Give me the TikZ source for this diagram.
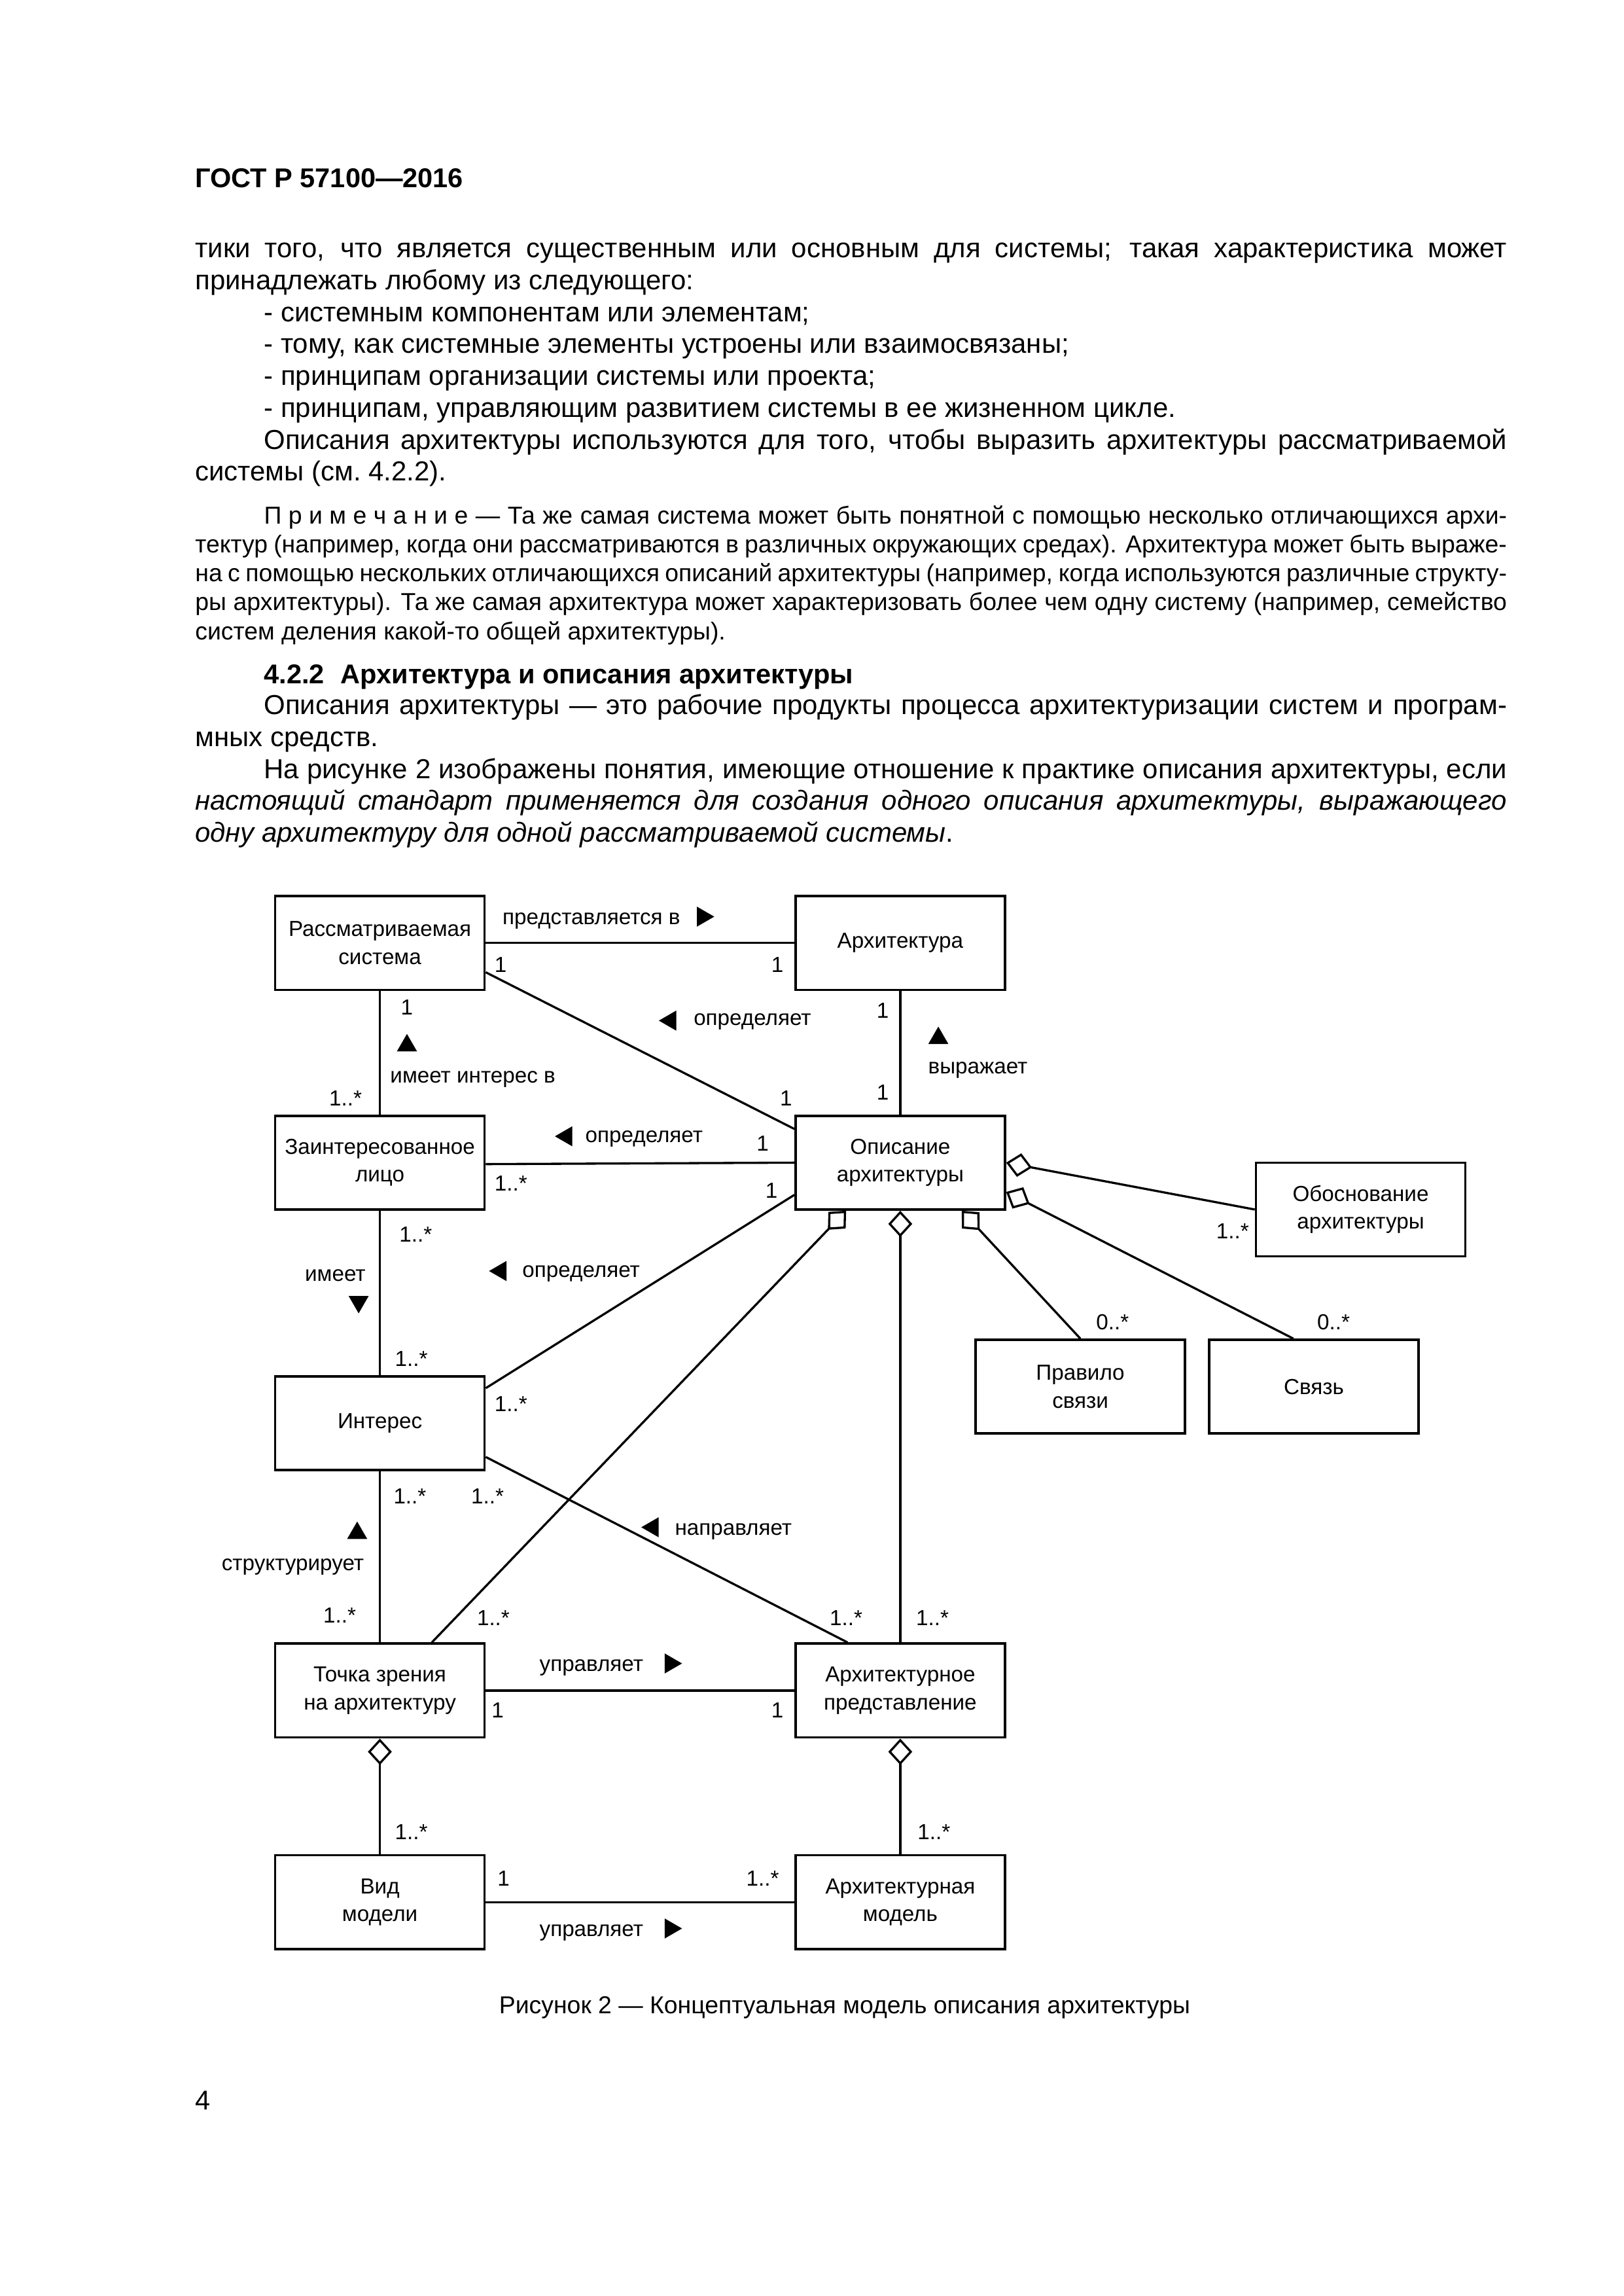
\documentclass[tikz,border=0pt]{standalone}
\usepackage{fontspec}
\setmainfont{Liberation Sans}
\usetikzlibrary{calc,arrows.meta,shapes.geometric}
\tikzset{
  box/.style={draw,line width=.9pt,minimum width=27.08mm,minimum height=12.12mm,inner sep=1pt,align=center,font=\fontsize{8}{10.2}\selectfont},
  lbl/.style={inner sep=0pt,font=\fontsize{8}{10}\selectfont},
  word/.style={lbl,yshift=-.55mm},
  link/.style={line width=.8pt},
  agg/.style={line width=.8pt,{Diamond[open,length=3.4mm,width=3.1mm]}-},
  tri/.style={regular polygon,regular polygon sides=3,fill,inner sep=0pt,minimum size=3mm},
  para/.style={anchor=base west,inner sep=0pt,text width=169.66mm,align=justify,font=\fontsize{10.1}{11.73}\selectfont},
  note/.style={para,font=\fontsize{9}{10.6}\selectfont}
}
\begin{document}
\begin{tikzpicture}[x=0.18936mm,y=-0.18936mm]
\path[use as bounding box,fill=white] (0,0) rectangle (1109,1568);
\node[anchor=base west,inner sep=0pt,font=\fontsize{10}{12}\selectfont\bfseries] (head) at (133,128) {ГОСТ Р 57100—2016};
\node[para] (p1) at (133,176) {тики того, что является существенным или основным для системы; такая характеристика может\linebreak принадлежать любому из следующего:\\
\hspace*{8.9mm}- системным компонентам или элементам;\\
\hspace*{8.9mm}- тому, как системные элементы устроены или взаимосвязаны;\\
\hspace*{8.9mm}- принципам организации системы или проекта;\\
\hspace*{8.9mm}- принципам, управляющим развитием системы в ее жизненном цикле.\\
\hspace*{8.9mm}Описания архитектуры используются для того, чтобы выразить архитектуры рассматриваемой\linebreak системы (см.~4.2.2).};
\node[note] (p2) at (133,358) {\hspace*{8.9mm}П\kern.28em р\kern.28em и\kern.28em м\kern.28em е\kern.28em ч\kern.28em а\kern.28em н\kern.28em и\kern.28em е — Та же самая система может быть понятной с помощью несколько отличающихся архи-\linebreak тектур (например, когда они рассматриваются в различных окружающих средах). Архитектура может быть выраже-\linebreak на с помощью нескольких отличающихся описаний архитектуры (например, когда используются различные структу-\linebreak ры архитектуры). Та же самая архитектура может характеризовать более чем одну систему (например, семейство\linebreak систем деления какой-то общей архитектуры).};
\node[anchor=base west,inner sep=0pt,font=\fontsize{10}{12}\selectfont\bfseries] (sec) at (180,467) {4.2.2\hspace{.6em}Архитектура и описания архитектуры};
\node[para] (p3) at (133,488) {\hspace*{8.9mm}Описания архитектуры — это рабочие продукты процесса архитектуризации систем и програм-\linebreak мных средств.\\
\hspace*{8.9mm}На рисунке 2 изображены понятия, имеющие отношение к практике описания архитектуры, если\linebreak \textit{настоящий стандарт применяется для создания одного описания архитектуры, выражающего\linebreak одну архитектуру для одной рассматриваемой системы}.};

\node[box] (sys) at (259.5,644) {Рассматриваемая\\система}; \node[box] (arch) at (615,644) {Архитектура};
\node[box] (stake) at (259.5,794) {Заинтересованное\\лицо}; \node[box] (ad) at (615,794) {Описание\\архитектуры};
\node[box] (rat) at (929.5,826) {Обоснование\\архитектуры};
\node[box] (crule) at (738,947) {Правило\\связи}; \node[box] (corr) at (897.5,947) {Связь};
\node[box] (conc) at (259.5,972) {Интерес};
\node[box] (vp) at (259.5,1154.5) {Точка зрения\\на архитектуру}; \node[box] (view) at (615,1154.5) {Архитектурное\\представление};
\node[box] (mk) at (259.5,1299) {Вид\\модели}; \node[box] (model) at (615,1299) {Архитектурная\\модель};

\draw[link] (sys.east) -- (arch.west); \draw[link] ($(sys.east)+(0,20)$) -- ($(ad.west)+(0,-23)$);
\draw[link] (arch.south) -- (ad.north); \draw[link] (sys.south) -- (stake.north);
\draw[link] ($(stake.east)+(0,1)$) -- (ad.west); \draw[link] (stake.south) -- (conc.north);
\draw[link] ($(conc.east)+(0,-24)$) -- ($(ad.west)+(0,22)$); \draw[link] ($(conc.east)+(0,23)$) -- ($(view.north)+(-36,0)$);
\draw[link] (conc.south) -- (vp.north); \draw[link] (vp.east) -- (view.west); \draw[link] (mk.east) -- (model.west);
\draw[agg] ($(ad.south)+(-37,0)$) -- ($(vp.north)+(35.5,0)$); \draw[agg] (ad.south) -- (view.north);
\draw[agg] ($(ad.south)+(42,0)$) -- (crule.north); \draw[agg] (ad.east) -- (rat.west);
\draw[agg] ($(ad.east)+(0,20)$) -- ($(corr.north)+(-14,0)$);
\draw[agg] (vp.south) -- (mk.north); \draw[agg] (view.south) -- (model.north);

\node[word] (l1) at (404,626) {представляется в}; \node[tri,shape border rotate=-90] (t1) at (480,626) {};
\node[lbl] (m1) at (342,659) {1}; \node[lbl] (m2) at (531,659) {1};
\node[tri,shape border rotate=90] (t2) at (458,697) {}; \node[word] (l2) at (514,695) {определяет};
\node[lbl] (m3) at (603,690) {1}; \node[lbl] (m4) at (603,746) {1}; \node[lbl] (m5) at (537,750) {1};
\node[tri] (t3) at (641,709) {}; \node[word] (l3) at (668,728) {выражает};
\node[lbl] (m6) at (278,688) {1}; \node[tri] (t4) at (278,714) {}; \node[word] (l4) at (323,734) {имеет интерес в}; \node[lbl] (m7) at (236,750) {1..*};
\node[tri,shape border rotate=90] (t5) at (387,776) {}; \node[word] (l5) at (440,775) {определяет};
\node[lbl] (m8) at (521,781) {1}; \node[lbl] (m9) at (349,808) {1..*}; \node[lbl] (m10) at (527,813) {1};
\node[lbl] (m11) at (284,843) {1..*}; \node[word] (l6) at (229,868) {имеет}; \node[tri,shape border rotate=180] (t6) at (245,889) {}; \node[lbl] (m12) at (281,928) {1..*};
\node[tri,shape border rotate=90] (t7) at (342,868) {}; \node[word] (l7) at (397,867) {определяет};
\node[lbl] (m13) at (842,841) {1..*}; \node[lbl] (m14) at (760,903) {0..*}; \node[lbl] (m15) at (911,903) {0..*};
\node[lbl] (m16) at (349,959) {1..*}; \node[lbl] (m17) at (280,1022) {1..*}; \node[lbl] (m18) at (333,1022) {1..*};
\node[tri] (t8) at (244,1047) {}; \node[word] (l8) at (200,1067) {структурирует};
\node[tri,shape border rotate=90] (t9) at (446,1043) {}; \node[word] (l9) at (501,1043) {направляет};
\node[lbl] (m19) at (232,1103) {1..*}; \node[lbl] (m20) at (337,1105) {1..*}; \node[lbl] (m21) at (578,1105) {1..*}; \node[lbl] (m22) at (637,1105) {1..*};
\node[word] (l10) at (404,1136) {управляет}; \node[tri,shape border rotate=-90] (t10) at (458,1136) {};
\node[lbl] (m23) at (340,1168) {1}; \node[lbl] (m24) at (531,1168) {1};
\node[lbl] (m25) at (281,1251) {1..*}; \node[lbl] (m26) at (638,1251) {1..*};
\node[lbl] (m27) at (344,1283) {1}; \node[lbl] (m28) at (521,1283) {1..*};
\node[word] (l11) at (404,1317) {управляет}; \node[tri,shape border rotate=-90] (t11) at (458,1317) {};

\node[anchor=base,inner sep=0pt,font=\fontsize{9}{11}\selectfont] (cap) at (577,1375) {Рисунок 2 — Концептуальная модель описания архитектуры};
\node[anchor=base west,inner sep=0pt,font=\fontsize{10}{12}\selectfont] (pg) at (133,1441) {4};
\end{tikzpicture}
\end{document}
